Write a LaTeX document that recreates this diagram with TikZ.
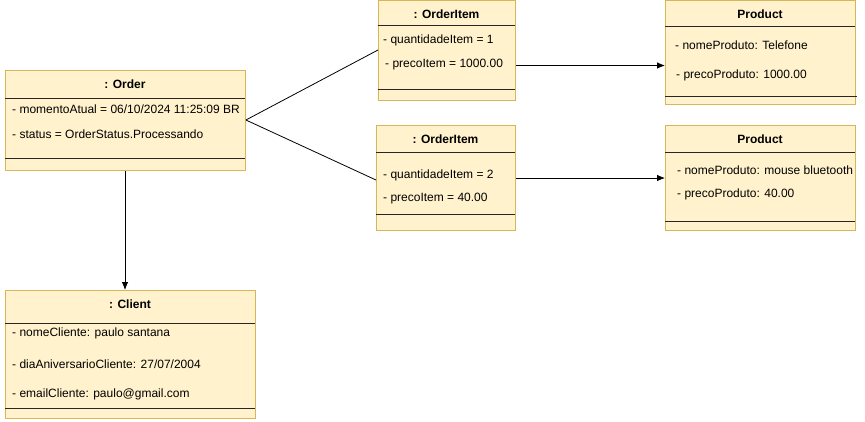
\documentclass[tikz,border=0pt]{standalone}
\usepackage{fontspec}
\setmainfont{Liberation Sans}
\usetikzlibrary{arrows.meta}
\definecolor{boxfill}{HTML}{FFF2CC}
\definecolor{boxline}{HTML}{D6B656}
\begin{document}
\begin{tikzpicture}[x=1pt,y=-1pt,
  umlbox/.style={draw=boxline,fill=boxfill,line width=0.9pt,anchor=north west,inner sep=0pt},
  ttl/.style={font=\fontsize{12}{14}\selectfont\bfseries,anchor=center,inner sep=0pt},
  attr/.style={font=\fontsize{12}{14}\selectfont,anchor=west,inner sep=0pt},
  divider/.style={draw=black!85,line width=0.9pt},
  conn/.style={draw=black,line width=0.8pt},
  arr/.style={conn,-{Latex[length=8pt,width=6.5pt]}}]
\useasboundingbox (0,0) rectangle (865,421);
% Order
\node[umlbox,minimum width=240pt,minimum height=100pt] (order) at (5,70) {};
\node[ttl] (ordert) at (125,84) {: Order};
\draw[divider] (5,98) -- (245,98);
\node[attr] (ordera) at (12,109.5) {- momentoAtual = 06/10/2024 11:25:09 BR};
\node[attr] (orderb) at (12,134.5) {- status = OrderStatus.Processando};
\draw[divider] (5,158) -- (245,158);
% OrderItem 1
\node[umlbox,minimum width=137pt,minimum height=100pt] (oi1) at (378,0) {};
\node[ttl] (oi1t) at (446.5,14) {: OrderItem};
\draw[divider] (378,25) -- (515,25);
\node[attr] (oi1a) at (383,40) {- quantidadeItem = 1};
\node[attr] (oi1b) at (385,65) {- precoItem = 1000.00};
\draw[divider] (378,89) -- (515,89);
% OrderItem 2
\node[umlbox,minimum width=139pt,minimum height=105pt] (oi2) at (376,125) {};
\node[ttl] (oi2t) at (445.5,139) {: OrderItem};
\draw[divider] (376,152) -- (515,152);
\node[attr] (oi2a) at (383,175) {- quantidadeItem = 2};
\node[attr] (oi2b) at (383,199) {- precoItem = 40.00};
\draw[divider] (376,214) -- (515,214);
% Product 1
\node[umlbox,minimum width=190pt,minimum height=104pt] (p1) at (665,0) {};
\node[ttl] (p1t) at (760,14) {Product};
\draw[divider] (665,26) -- (855,26);
\node[attr] (p1a) at (675,45) {- nomeProduto: Telefone};
\node[attr] (p1b) at (676,75) {- precoProduto: 1000.00};
\draw[divider] (665,96) -- (857,96);
% Product 2
\node[umlbox,minimum width=190pt,minimum height=105pt] (p2) at (665,125) {};
\node[ttl] (p2t) at (760,139) {Product};
\draw[divider] (665,152) -- (855,152);
\node[attr] (p2a) at (677,170) {- nomeProduto: mouse bluetooth};
\node[attr] (p2b) at (677,194) {- precoProduto: 40.00};
\draw[divider] (665,221) -- (855,221);
% Client
\node[umlbox,minimum width=250pt,minimum height=128pt] (client) at (5,290) {};
\node[ttl] (clientt) at (130,304) {: Client};
\draw[divider] (5,323) -- (255,323);
\node[attr] (ca) at (12,333.5) {- nomeCliente: paulo santana};
\node[attr] (cb) at (12,364.5) {- diaAniversarioCliente: 27/07/2004};
\node[attr] (cc) at (12,394.5) {- emailCliente: paulo@gmail.com};
\draw[divider] (5,408) -- (255,408);
% connectors
\coordinate (oright) at (order.east |- 0,120);
\draw[conn] (oright) -- (oi1.west |- 0,50);
\draw[conn] (oright) -- (oi2.west |- 0,180);
\draw[arr] (oi1.east |- 0,65.5) -- (p1.west |- 0,65.5);
\draw[arr] (oi2.east |- 0,178) -- (p2.west |- 0,178);
\draw[arr] (order.south -| 125,0) -- (client.north -| 125,0);
\end{tikzpicture}
\end{document}
